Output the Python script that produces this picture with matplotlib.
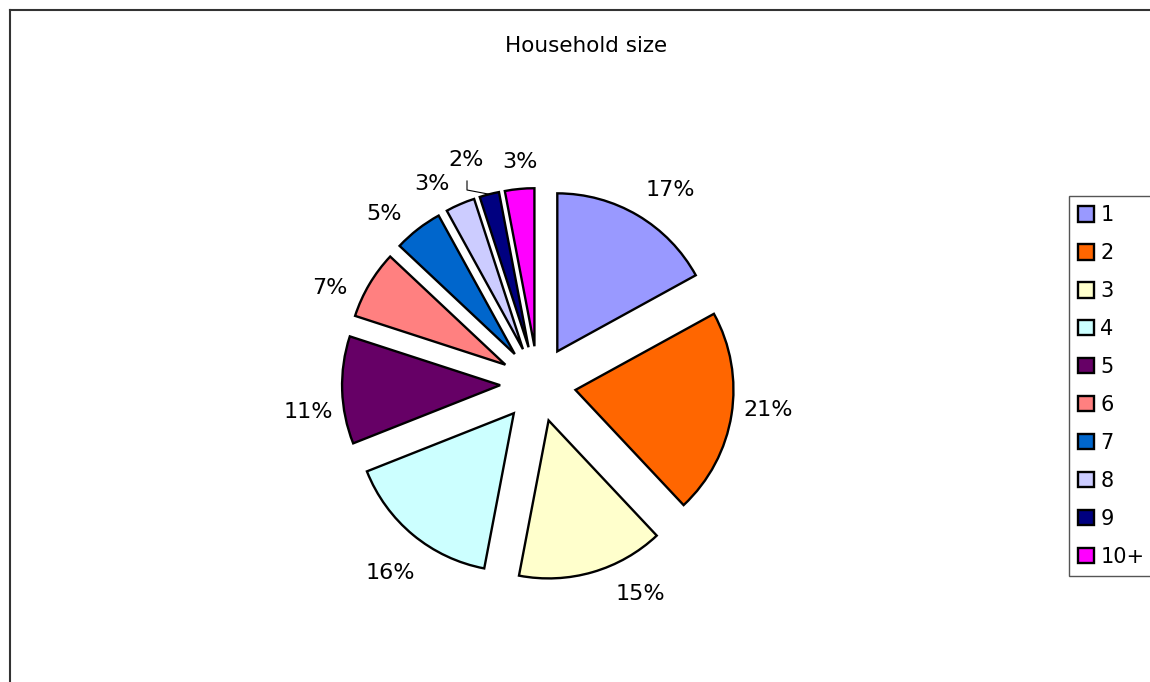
import matplotlib
matplotlib.use("Agg")
import matplotlib.pyplot as plt
from matplotlib.lines import Line2D
from matplotlib.patches import Patch
import numpy as np

# household size shares (%)
SIZES = ["1", "2", "3", "4", "5", "6", "7", "8", "9", "10+"]
SHARES = [17, 21, 15, 16, 11, 7, 5, 3, 2, 3]
COLORS = ["#9999FF", "#FF6600", "#FFFFCC", "#CCFFFF", "#660066",
          "#FF8080", "#0066CC", "#CCCCFF", "#000080", "#FF00FF"]

W, H = 1150, 682
# percentage label anchors, pixels from top-left
LABEL_XY = [(670, 190), (768, 410), (640, 594), (390, 573), (308, 412),
            (330, 288), (384, 214), (432, 184), (466, 160), (520, 162)]

plt.rcParams["font.family"] = ["DejaVu Sans"]

fig = plt.figure(figsize=(W / 100, H / 100), dpi=100)
ax = fig.add_axes([0, 0, 1, 1])

radius = 158
center = (538, H - 384)
# explode is in data units here, so scale it by the radius
wedges, _, pcts = ax.pie(
    SHARES,
    colors=COLORS,
    explode=[0.24 * radius] * len(SHARES),
    startangle=90,
    counterclock=False,
    radius=radius,
    center=center,
    autopct="%1.0f%%",
    pctdistance=1.23,
    wedgeprops=dict(edgecolor="black", linewidth=1.7),
    textprops=dict(fontsize=16, color="black"),
    frame=True,
)
ax.set_xlim(0, W)
ax.set_ylim(0, H)
ax.axis("off")

for t, (lx, ly) in zip(pcts, LABEL_XY):
    t.set_position((lx, H - ly))

# leader line from the "2%" label down to its slice
i9 = SIZES.index("9")
w = wedges[i9]
mid = np.deg2rad((w.theta1 + w.theta2) / 2)
tip = (w.center[0] + w.r * np.cos(mid), w.center[1] + w.r * np.sin(mid))
lx, ly = LABEL_XY[i9]
ax.plot([lx + 1, lx + 1, tip[0]], [H - ly - 21, H - ly - 30, tip[1]],
        color="black", linewidth=0.8)

fig.text(0.510, 1 - 46 / H, "Household size", ha="center", va="center", fontsize=15.5)

handles = [Patch(facecolor=c, edgecolor="black", linewidth=1.7) for c in COLORS]
leg = fig.legend(handles, SIZES, loc="upper left",
                 bbox_to_anchor=(1069 / W, 1 - 196 / H), borderaxespad=0,
                 fontsize=15, handlelength=0.75, handleheight=0.75,
                 handletextpad=0.3, labelspacing=0.86, borderpad=0.45,
                 fancybox=False, framealpha=1)
leg.get_frame().set_edgecolor("#555555")
leg.get_frame().set_linewidth(1.0)

# outer chart frame
fig.add_artist(Line2D([10 / W, 10 / W], [0, 1 - 10 / H], color="#333333", linewidth=1.5))
fig.add_artist(Line2D([10 / W, 1], [1 - 10 / H, 1 - 10 / H], color="#333333", linewidth=1.5))

fig.savefig("out.png", dpi=100)
